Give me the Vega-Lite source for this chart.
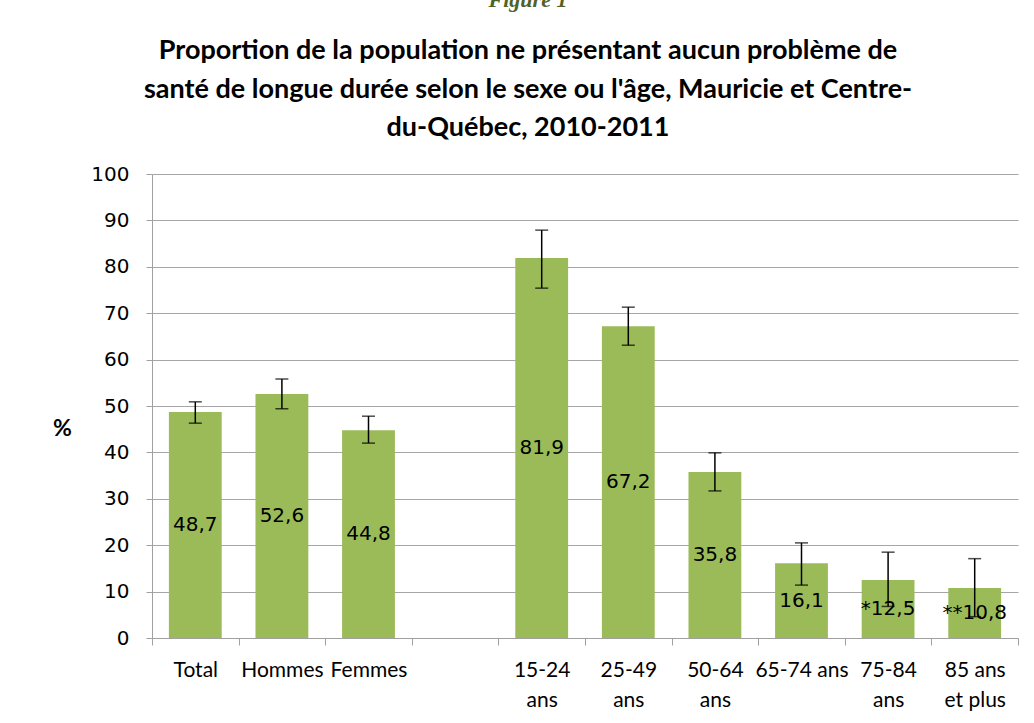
{
  "$schema": "https://vega.github.io/schema/vega-lite/v6.json",
  "width": 866,
  "height": 464,
  "autosize": {"type": "none"},
  "padding": {"left": 152, "top": 174, "right": 16, "bottom": 85},
  "background": "white",
  "title": {
    "text": "Figure 1",
    "subtitle": ["Proportion de la population ne présentant aucun problème de", "santé de longue durée selon le sexe ou l'âge, Mauricie et Centre-", "du-Québec, 2010-2011"],
    "anchor": "middle",
    "dx": -57,
    "font": "Liberation Serif",
    "fontStyle": "italic",
    "fontWeight": "bold",
    "fontSize": 22,
    "color": "#4F6228",
    "subtitleFont": "Lato",
    "subtitleFontWeight": "bold",
    "subtitleFontSize": 27,
    "subtitleColor": "#000000",
    "subtitleLineHeight": 38.5,
    "subtitlePadding": 26,
    "offset": 22
  },
  "data": {
    "values": [
      {"cat": "Total", "value": 48.7, "lo": 46.3, "hi": 50.9, "label": "48,7"},
      {"cat": "Hommes", "value": 52.6, "lo": 49.4, "hi": 55.8, "label": "52,6"},
      {"cat": "Femmes", "value": 44.8, "lo": 42.0, "hi": 47.8, "label": "44,8"},
      {"cat": "15-24 ans", "value": 81.9, "lo": 75.4, "hi": 87.9, "label": "81,9"},
      {"cat": "25-49 ans", "value": 67.2, "lo": 63.1, "hi": 71.3, "label": "67,2"},
      {"cat": "50-64 ans", "value": 35.8, "lo": 31.7, "hi": 39.9, "label": "35,8"},
      {"cat": "65-74 ans", "value": 16.1, "lo": 11.4, "hi": 20.5, "label": "16,1"},
      {"cat": "75-84 ans", "value": 12.5, "lo": 6.8, "hi": 18.5, "label": "*12,5"},
      {"cat": "85 ans et plus", "value": 10.8, "lo": 4.6, "hi": 17.1, "label": "**10,8"}
    ]
  },
  "encoding": {
    "x": {
      "field": "cat",
      "type": "nominal",
      "scale": {
        "domain": ["Total", "Hommes", "Femmes", " ", "15-24 ans", "25-49 ans", "50-64 ans", "65-74 ans", "75-84 ans", "85 ans et plus"],
        "paddingInner": 0,
        "paddingOuter": 0
      },
      "axis": {
        "title": null,
        "labelAngle": 0,
        "tickBand": "extent",
        "labelExpr": "datum.label == ' ' ? '' : datum.label == '65-74 ans' ? datum.label : datum.label == '85 ans et plus' ? ['85 ans', 'et plus'] : indexof(datum.label, ' ') < 0 ? datum.label : split(datum.label, ' ')",
        "labelFont": "Lato",
        "labelFontSize": 21,
        "labelColor": "#000000",
        "labelLineHeight": 30,
        "labelPadding": 14,
        "labelBaseline": "top",
        "tickSize": 7,
        "tickColor": "#A0A0A0",
        "domainColor": "#A0A0A0",
        "labelOverlap": false
      }
    }
  },
  "layer": [
    {
      "mark": {"type": "bar", "width": {"band": 0.61}, "color": "#9BBB59"},
      "encoding": {
        "y": {
          "field": "value",
          "type": "quantitative",
          "scale": {"domain": [0, 100], "nice": false},
          "axis": {
            "title": "%",
            "titleAngle": 0,
            "titleX": -90,
            "titleY": 254,
            "titleAlign": "center",
            "titleBaseline": "middle",
            "titleFont": "Lato",
            "titleFontWeight": "bold",
            "titleFontSize": 23,
            "titleColor": "#000000",
            "values": [0, 10, 20, 30, 40, 50, 60, 70, 80, 90, 100],
            "labelFont": "DejaVu Sans",
            "labelFontSize": 20,
            "labelColor": "#000000",
            "labelPadding": 17,
            "tickSize": 6,
            "tickColor": "#A0A0A0",
            "domainColor": "#A0A0A0",
            "grid": true,
            "gridColor": "#A6A6A6",
            "gridWidth": 1.2
          }
        }
      }
    },
    {
      "mark": {"type": "rule", "color": "#000000", "strokeWidth": 1.5},
      "encoding": {
        "y": {"field": "lo", "type": "quantitative", "scale": {"domain": [0, 100], "nice": false}, "axis": null},
        "y2": {"field": "hi"}
      }
    },
    {
      "mark": {"type": "tick", "color": "#000000", "thickness": 1.5, "size": 13},
      "encoding": {
        "y": {"field": "lo", "type": "quantitative", "scale": {"domain": [0, 100], "nice": false}, "axis": null}
      }
    },
    {
      "mark": {"type": "tick", "color": "#000000", "thickness": 1.5, "size": 13},
      "encoding": {
        "y": {"field": "hi", "type": "quantitative", "scale": {"domain": [0, 100], "nice": false}, "axis": null}
      }
    },
    {
      "mark": {"type": "text", "font": "DejaVu Sans", "fontSize": 20, "color": "#000000", "baseline": "middle", "align": "center"},
      "encoding": {
        "y": {"field": "value", "type": "quantitative", "scale": {"domain": [0, 200], "nice": false}, "axis": null},
        "text": {"field": "label", "type": "nominal"}
      }
    }
  ],
  "resolve": {"scale": {"y": "independent"}},
  "config": {"view": {"stroke": null}}
}
